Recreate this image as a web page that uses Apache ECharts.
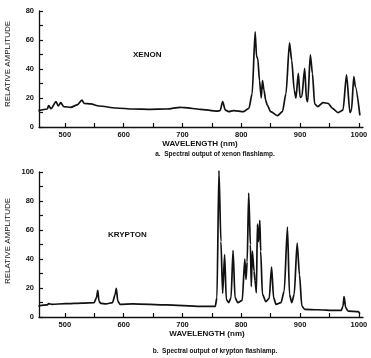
<!DOCTYPE html>
<html>
<head>
<meta charset="utf-8">
<script src="https://cdn.jsdelivr.net/npm/echarts@6/dist/echarts.min.js"></script>
<style>
html,body{margin:0;padding:0;background:#fff;}
#c{width:371px;height:358px;}
</style>
</head>
<body>
<div id="c"></div>
<script>
// Xenon flashlamp spectrum (panel a)
var xenonWl  = [455,470,472.5,476.5,485,488.6,493,498,510,521,529,532.6,544,558,587,616,644,673,696,704,730,758.5,764,768.3,772.8,778.5,787,804,813,818.5,823.6,826,828,831,834,836,838.6,841.5,844,850,861.7,870,876,882,885.8,890,893,897,900,903,907.8,911,913,917.4,921,924.8,930,939,947.6,955,964.6,973,979,984.8,987.4,991.4,994,1001.7];
var xenonAmp = [11.3,12.4,14.7,12.6,17.5,14.5,16.8,14,13.6,15.2,18.6,16.3,15.9,14.5,13.1,12.4,12.2,12.4,13.6,13.3,12.2,11,11.3,17.5,11.7,10.6,11.3,10.6,12.9,23,65.7,48.5,47.4,32,20,32,25.5,18.6,15.2,10.6,7.8,10.6,23,58,46,25.5,20,37,20.5,21,40.5,18.6,17.5,49.7,37,15.9,14,16.8,16.3,12.9,9.9,11.7,35.9,9.9,11.7,34.7,27.8,8];

// Krypton flashlamp spectrum (panel b)
var kryptonWl  = [455,469.7,472.5,478,501,529.7,549.7,553.7,556,558,561,570,581,585.5,587.5,590,593.7,615.6,672.8,730,755.7,758.6,762,765.4,768.3,771.7,774.5,778.5,782.6,786,789.4,794,801.6,806,808,810,812.6,815.5,817,818.8,821.7,823.4,825.7,827.4,829.2,831.5,833,836,841.8,847.5,851.5,855,859,867.5,873,878.5,882,885.8,890,895,899,903,907.8,930,959,970,973,974.8,977.6,981.7,998.8,1001.7];
var kryptonAmp = [7.6,8.3,9.2,8.7,9.2,9.6,9.9,13.3,18.3,11,9.4,9,9.9,15.6,19.7,11,8.7,9,8.3,7.3,7.3,13.3,101,52,16.3,43,12.2,9.9,13.3,46,13.3,9.9,11.5,40,26,38,85.5,50,21,45.5,31.7,25,16.7,64,52,66.7,45.5,15.6,10.6,12.8,34.5,13.3,8.7,9.9,17.9,62,15.6,9.9,15.6,51,29,7.6,5.3,5,4.6,4.6,7.6,14,6.4,4.1,3.7,2.3];

var xTicks = [500,550,600,650,700,750,800,850,900,950,1000];
var xLabels = [500,600,700,800,900,1000];
var yLabelsA = [0,20,40,60,80];
var yLabelsB = [0,20,40,60,80,100];

function zip(a,b){var r=[];for(var i=0;i<a.length;i++)r.push([a[i],b[i]]);return r;}

var FONT = '"Liberation Sans", Arial, sans-serif';
var INK = '#111';

function xAxis(idx){
  return {
    gridIndex: idx, type:'value', min:456, max:1007,
    axisLine:{show:true, lineStyle:{color:INK, width:1.3}},
    axisTick:{show:true, inside:true, length:4, customValues:xTicks, lineStyle:{color:INK, width:1.2}},
    axisLabel:{show:true, customValues:xLabels, margin:4, fontSize:7.5, fontFamily:FONT, color:INK, fontWeight:'bold',
      formatter:function(v){return String(v);}},
    splitLine:{show:false}
  };
}
function yAxis(idx, max, labels){
  return {
    gridIndex: idx, type:'value', min:0, max:max, interval:10,
    axisLine:{show:true, lineStyle:{color:INK, width:1.3}},
    axisTick:{show:true, inside:true, length:4, lineStyle:{color:INK, width:1.2}},
    axisLabel:{show:true, margin:5, fontSize:7.5, fontFamily:FONT, color:INK, fontWeight:'bold',
      formatter:function(v){return labels.indexOf(v)>=0 ? String(v) : '';}},
    splitLine:{show:false}
  };
}

var chart = echarts.init(document.getElementById('c'), null, {renderer:'canvas'});
chart.setOption({
  backgroundColor:'#fff',
  animation:false,
  grid:[
    {left:39, right:8, top:11, height:116},
    {left:39, right:8, top:172, height:145}
  ],
  xAxis:[xAxis(0), xAxis(1)],
  yAxis:[yAxis(0,80,yLabelsA), yAxis(1,100,yLabelsB)],
  series:[
    {type:'line', xAxisIndex:0, yAxisIndex:0, data:zip(xenonWl,xenonAmp), showSymbol:false, clip:false,
     smooth:0.25, smoothMonotone:'x', lineStyle:{color:INK, width:1.7}},
    {type:'line', xAxisIndex:1, yAxisIndex:1, data:zip(kryptonWl,kryptonAmp), showSymbol:false, clip:false,
     smooth:0.25, smoothMonotone:'x', lineStyle:{color:INK, width:1.7}}
  ],
  graphic:[
    {type:'text', left:133, top:51, style:{text:'XENON', font:'bold 8px '+FONT, fill:INK}},
    {type:'text', left:108, top:231, style:{text:'KRYPTON', font:'bold 8px '+FONT, fill:INK}},
    {type:'text', x:200, y:144, style:{text:'WAVELENGTH (nm)', font:'bold 8px '+FONT, fill:INK, align:'center', verticalAlign:'middle'}},
    {type:'text', x:215, y:154, style:{text:'a.  Spectral output of xenon flashlamp.', font:'bold 6.5px '+FONT, fill:INK, align:'center', verticalAlign:'middle'}},
    {type:'text', x:207, y:334, style:{text:'WAVELENGTH (nm)', font:'bold 8px '+FONT, fill:INK, align:'center', verticalAlign:'middle'}},
    {type:'text', x:215, y:351, style:{text:'b.  Spectral output of krypton flashlamp.', font:'bold 6.5px '+FONT, fill:INK, align:'center', verticalAlign:'middle'}},
    {type:'text', x:8, y:64, rotation:Math.PI/2, style:{text:'RELATIVE AMPLITUDE', font:'8px '+FONT, fill:INK, align:'center', verticalAlign:'middle'}},
    {type:'text', x:8, y:241, rotation:Math.PI/2, style:{text:'RELATIVE AMPLITUDE', font:'8px '+FONT, fill:INK, align:'center', verticalAlign:'middle'}}
  ]
});
</script>
</body>
</html>
